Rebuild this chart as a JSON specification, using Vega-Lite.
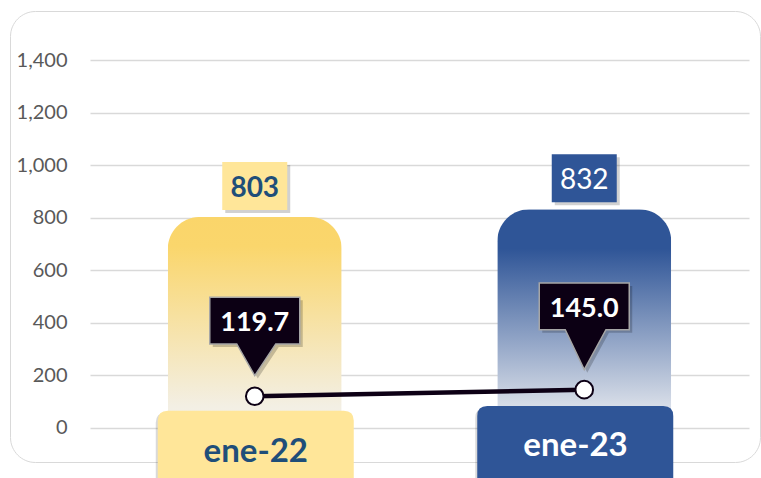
{
  "$schema": "https://vega.github.io/schema/vega-lite/v6.json",
  "width": 750,
  "height": 451,
  "autosize": "none",
  "padding": {"left": 10, "top": 11, "right": 1, "bottom": 16},
  "background": "#ffffff",
  "config": {
    "view": {"stroke": "#d9d9d9", "strokeWidth": 1, "cornerRadius": 25},
    "font": "Lato"
  },
  "data": {
    "values": [
      {"period": "ene-22", "value": 803, "rate": 119.7},
      {"period": "ene-23", "value": 832, "rate": 145.0}
    ]
  },
  "encoding": {
    "x": {
      "field": "period",
      "type": "nominal",
      "sort": null,
      "axis": null,
      "scale": {"range": [80, 739], "paddingInner": 0.472, "paddingOuter": 0.236}
    }
  },
  "resolve": {"axis": {"y": "independent"}},
  "layer": [
    {
      "mark": {"type": "bar", "cornerRadiusTopLeft": 32, "cornerRadiusTopRight": 32, "cornerRadiusBottomLeft": 12, "cornerRadiusBottomRight": 12},
      "encoding": {
        "y": {
          "field": "value",
          "type": "quantitative",
          "scale": {"domain": [-130.7, 1587.9], "nice": false, "zero": false},
          "axis": {
            "orient": "left",
            "offset": -80,
            "values": [0, 200, 400, 600, 800, 1000, 1200, 1400],
            "format": ",.0f",
            "title": null,
            "domain": false,
            "ticks": false,
            "tickSize": 0,
            "labelPadding": 23,
            "labelFont": "Lato",
            "labelFontSize": 20,
            "labelColor": "#595959",
            "grid": true,
            "gridColor": "#d9d9d9",
            "gridWidth": 1.5
          }
        },
        "fill": {
          "condition": {
            "test": "datum.period === 'ene-22'",
            "value": {"gradient": "linear", "x1": 0, "y1": 0, "x2": 0, "y2": 1, "stops": [
              {"offset": 0, "color": "#FAD56A"},
              {"offset": 0.14, "color": "#FAD66C"},
              {"offset": 0.9, "color": "#F3EFE4"},
              {"offset": 1, "color": "#F3F1EA"}
            ]}
          },
          "value": {"gradient": "linear", "x1": 0, "y1": 0, "x2": 0, "y2": 1, "stops": [
            {"offset": 0, "color": "#2F5597"},
            {"offset": 0.18, "color": "#2F5597"},
            {"offset": 0.92, "color": "#DCE1EA"},
            {"offset": 1, "color": "#E3E7EE"}
          ]}
        }
      }
    },
    {
      "mark": {"type": "point", "filled": true, "size": 40000, "fill": "#000000", "opacity": 0.18, "xOffset": 3, "yOffset": 3,
        "shape": "M-0.325,-0.55L0.325,-0.55L0.325,-0.07L-0.325,-0.07Z"},
      "encoding": {
        "y": {"field": "value", "type": "quantitative", "scale": {"domain": [-130.7, 1587.9], "nice": false, "zero": false}, "axis": null}
      }
    },
    {
      "mark": {"type": "point", "filled": true, "size": 40000, "opacity": 1,
        "shape": "M-0.325,-0.55L0.325,-0.55L0.325,-0.07L-0.325,-0.07Z"},
      "encoding": {
        "y": {"field": "value", "type": "quantitative", "scale": {"domain": [-130.7, 1587.9], "nice": false, "zero": false}, "axis": null},
        "fill": {"condition": {"test": "datum.period === 'ene-22'", "value": "#FFE699"}, "value": "#2F5597"}
      }
    },
    {
      "transform": [{"filter": "datum.period === 'ene-22'"}],
      "mark": {"type": "text", "font": "Lato", "fontSize": 28, "fontWeight": "bold", "color": "#1F4E79", "baseline": "alphabetic", "align": "center", "dy": -20},
      "encoding": {
        "y": {"field": "value", "type": "quantitative", "scale": {"domain": [-130.7, 1587.9], "nice": false, "zero": false}, "axis": null},
        "text": {"field": "value", "type": "quantitative", "format": ",.0f"}
      }
    },
    {
      "transform": [{"filter": "datum.period === 'ene-23'"}],
      "mark": {"type": "text", "font": "Lato", "fontSize": 28, "fontWeight": "normal", "color": "#ffffff", "baseline": "alphabetic", "align": "center", "dy": -20},
      "encoding": {
        "y": {"field": "value", "type": "quantitative", "scale": {"domain": [-130.7, 1587.9], "nice": false, "zero": false}, "axis": null},
        "text": {"field": "value", "type": "quantitative", "format": ",.0f"}
      }
    },
    {
      "mark": {"type": "point", "filled": true, "size": 40000, "fill": "#000000", "opacity": 0.15, "xOffset": -2, "yOffset": 2},
      "encoding": {
        "y": {"datum": 0, "type": "quantitative", "scale": {"domain": [-130.7, 1587.9], "nice": false, "zero": false}, "axis": null},
        "shape": {
          "condition": {"test": "datum.period === 'ene-22'", "value": "M-0.87,-0.17L0.89,-0.17Q0.99,-0.17 0.99,-0.07L0.99,0.5Q0.99,0.6 0.89,0.6L-0.87,0.6Q-0.97,0.6 -0.97,0.5L-0.97,-0.07Q-0.97,-0.17 -0.87,-0.17Z"},
          "value": "M-0.97,-0.217L0.79,-0.217Q0.89,-0.217 0.89,-0.117L0.89,0.5Q0.89,0.6 0.79,0.6L-0.97,0.6Q-1.07,0.6 -1.07,0.5L-1.07,-0.117Q-1.07,-0.217 -0.97,-0.217Z"
        }
      }
    },
    {
      "mark": {"type": "point", "filled": true, "size": 40000, "opacity": 1},
      "encoding": {
        "y": {"datum": 0, "type": "quantitative", "scale": {"domain": [-130.7, 1587.9], "nice": false, "zero": false}, "axis": null},
        "shape": {
          "condition": {"test": "datum.period === 'ene-22'", "value": "M-0.87,-0.17L0.89,-0.17Q0.99,-0.17 0.99,-0.07L0.99,0.5Q0.99,0.6 0.89,0.6L-0.87,0.6Q-0.97,0.6 -0.97,0.5L-0.97,-0.07Q-0.97,-0.17 -0.87,-0.17Z"},
          "value": "M-0.97,-0.217L0.79,-0.217Q0.89,-0.217 0.89,-0.117L0.89,0.5Q0.89,0.6 0.79,0.6L-0.97,0.6Q-1.07,0.6 -1.07,0.5L-1.07,-0.117Q-1.07,-0.217 -0.97,-0.217Z"
        },
        "fill": {"condition": {"test": "datum.period === 'ene-22'", "value": "#FFE699"}, "value": "#2F5597"}
      }
    },
    {
      "transform": [{"filter": "datum.period === 'ene-22'"}],
      "mark": {"type": "text", "font": "Lato", "fontSize": 33, "fontWeight": "bold", "color": "#1F4E79", "baseline": "alphabetic", "align": "center", "dy": 34, "dx": 1},
      "encoding": {
        "y": {"datum": 0, "type": "quantitative", "scale": {"domain": [-130.7, 1587.9], "nice": false, "zero": false}, "axis": null},
        "text": {"field": "period", "type": "nominal"}
      }
    },
    {
      "transform": [{"filter": "datum.period === 'ene-23'"}],
      "mark": {"type": "text", "font": "Lato", "fontSize": 33, "fontWeight": "bold", "color": "#ffffff", "baseline": "alphabetic", "align": "center", "dy": 28.3, "dx": -8.75},
      "encoding": {
        "y": {"datum": 0, "type": "quantitative", "scale": {"domain": [-130.7, 1587.9], "nice": false, "zero": false}, "axis": null},
        "text": {"field": "period", "type": "nominal"}
      }
    },
    {
      "mark": {"type": "line", "color": "#0D0015", "strokeWidth": 4.5},
      "encoding": {
        "y": {"field": "rate", "type": "quantitative", "scale": {"domain": [-130.7, 1587.9], "nice": false, "zero": false}, "axis": null}
      }
    },
    {
      "mark": {"type": "point", "filled": true, "shape": "circle", "size": 310, "fill": "#ffffff", "stroke": "#0D0015", "strokeWidth": 2, "opacity": 1},
      "encoding": {
        "y": {"field": "rate", "type": "quantitative", "scale": {"domain": [-130.7, 1587.9], "nice": false, "zero": false}, "axis": null}
      }
    },
    {
      "mark": {"type": "point", "filled": true, "size": 40000, "fill": "#000000", "opacity": 0.2, "xOffset": 3, "yOffset": 3},
      "encoding": {
        "y": {"field": "rate", "type": "quantitative", "scale": {"domain": [-130.7, 1587.9], "nice": false, "zero": false}, "axis": null},
        "shape": {
          "condition": {"test": "datum.period === 'ene-22'", "value": "M-0.45,-0.99L0.45,-0.99L0.45,-0.524L0.21,-0.524L0,-0.207L-0.18,-0.524L-0.45,-0.524Z"},
          "value": "M-0.45,-1.067L0.45,-1.067L0.45,-0.6L0.217,-0.6L0,-0.2L-0.19,-0.6L-0.45,-0.6Z"
        }
      }
    },
    {
      "mark": {"type": "point", "filled": true, "size": 40000, "fill": "#0C0014", "stroke": "#A6A6A6", "strokeWidth": 1.5, "opacity": 1},
      "encoding": {
        "y": {"field": "rate", "type": "quantitative", "scale": {"domain": [-130.7, 1587.9], "nice": false, "zero": false}, "axis": null},
        "shape": {
          "condition": {"test": "datum.period === 'ene-22'", "value": "M-0.45,-0.99L0.45,-0.99L0.45,-0.524L0.21,-0.524L0,-0.207L-0.18,-0.524L-0.45,-0.524Z"},
          "value": "M-0.45,-1.067L0.45,-1.067L0.45,-0.6L0.217,-0.6L0,-0.2L-0.19,-0.6L-0.45,-0.6Z"
        }
      }
    },
    {
      "transform": [{"filter": "datum.period === 'ene-22'"}],
      "mark": {"type": "text", "font": "Lato", "fontSize": 27, "fontWeight": "bold", "color": "#ffffff", "baseline": "alphabetic", "align": "center", "dy": -65},
      "encoding": {
        "y": {"field": "rate", "type": "quantitative", "scale": {"domain": [-130.7, 1587.9], "nice": false, "zero": false}, "axis": null},
        "text": {"field": "rate", "type": "quantitative", "format": ".1f"}
      }
    },
    {
      "transform": [{"filter": "datum.period === 'ene-23'"}],
      "mark": {"type": "text", "font": "Lato", "fontSize": 27, "fontWeight": "bold", "color": "#ffffff", "baseline": "alphabetic", "align": "center", "dy": -72.3},
      "encoding": {
        "y": {"field": "rate", "type": "quantitative", "scale": {"domain": [-130.7, 1587.9], "nice": false, "zero": false}, "axis": null},
        "text": {"field": "rate", "type": "quantitative", "format": ".1f"}
      }
    }
  ]
}
